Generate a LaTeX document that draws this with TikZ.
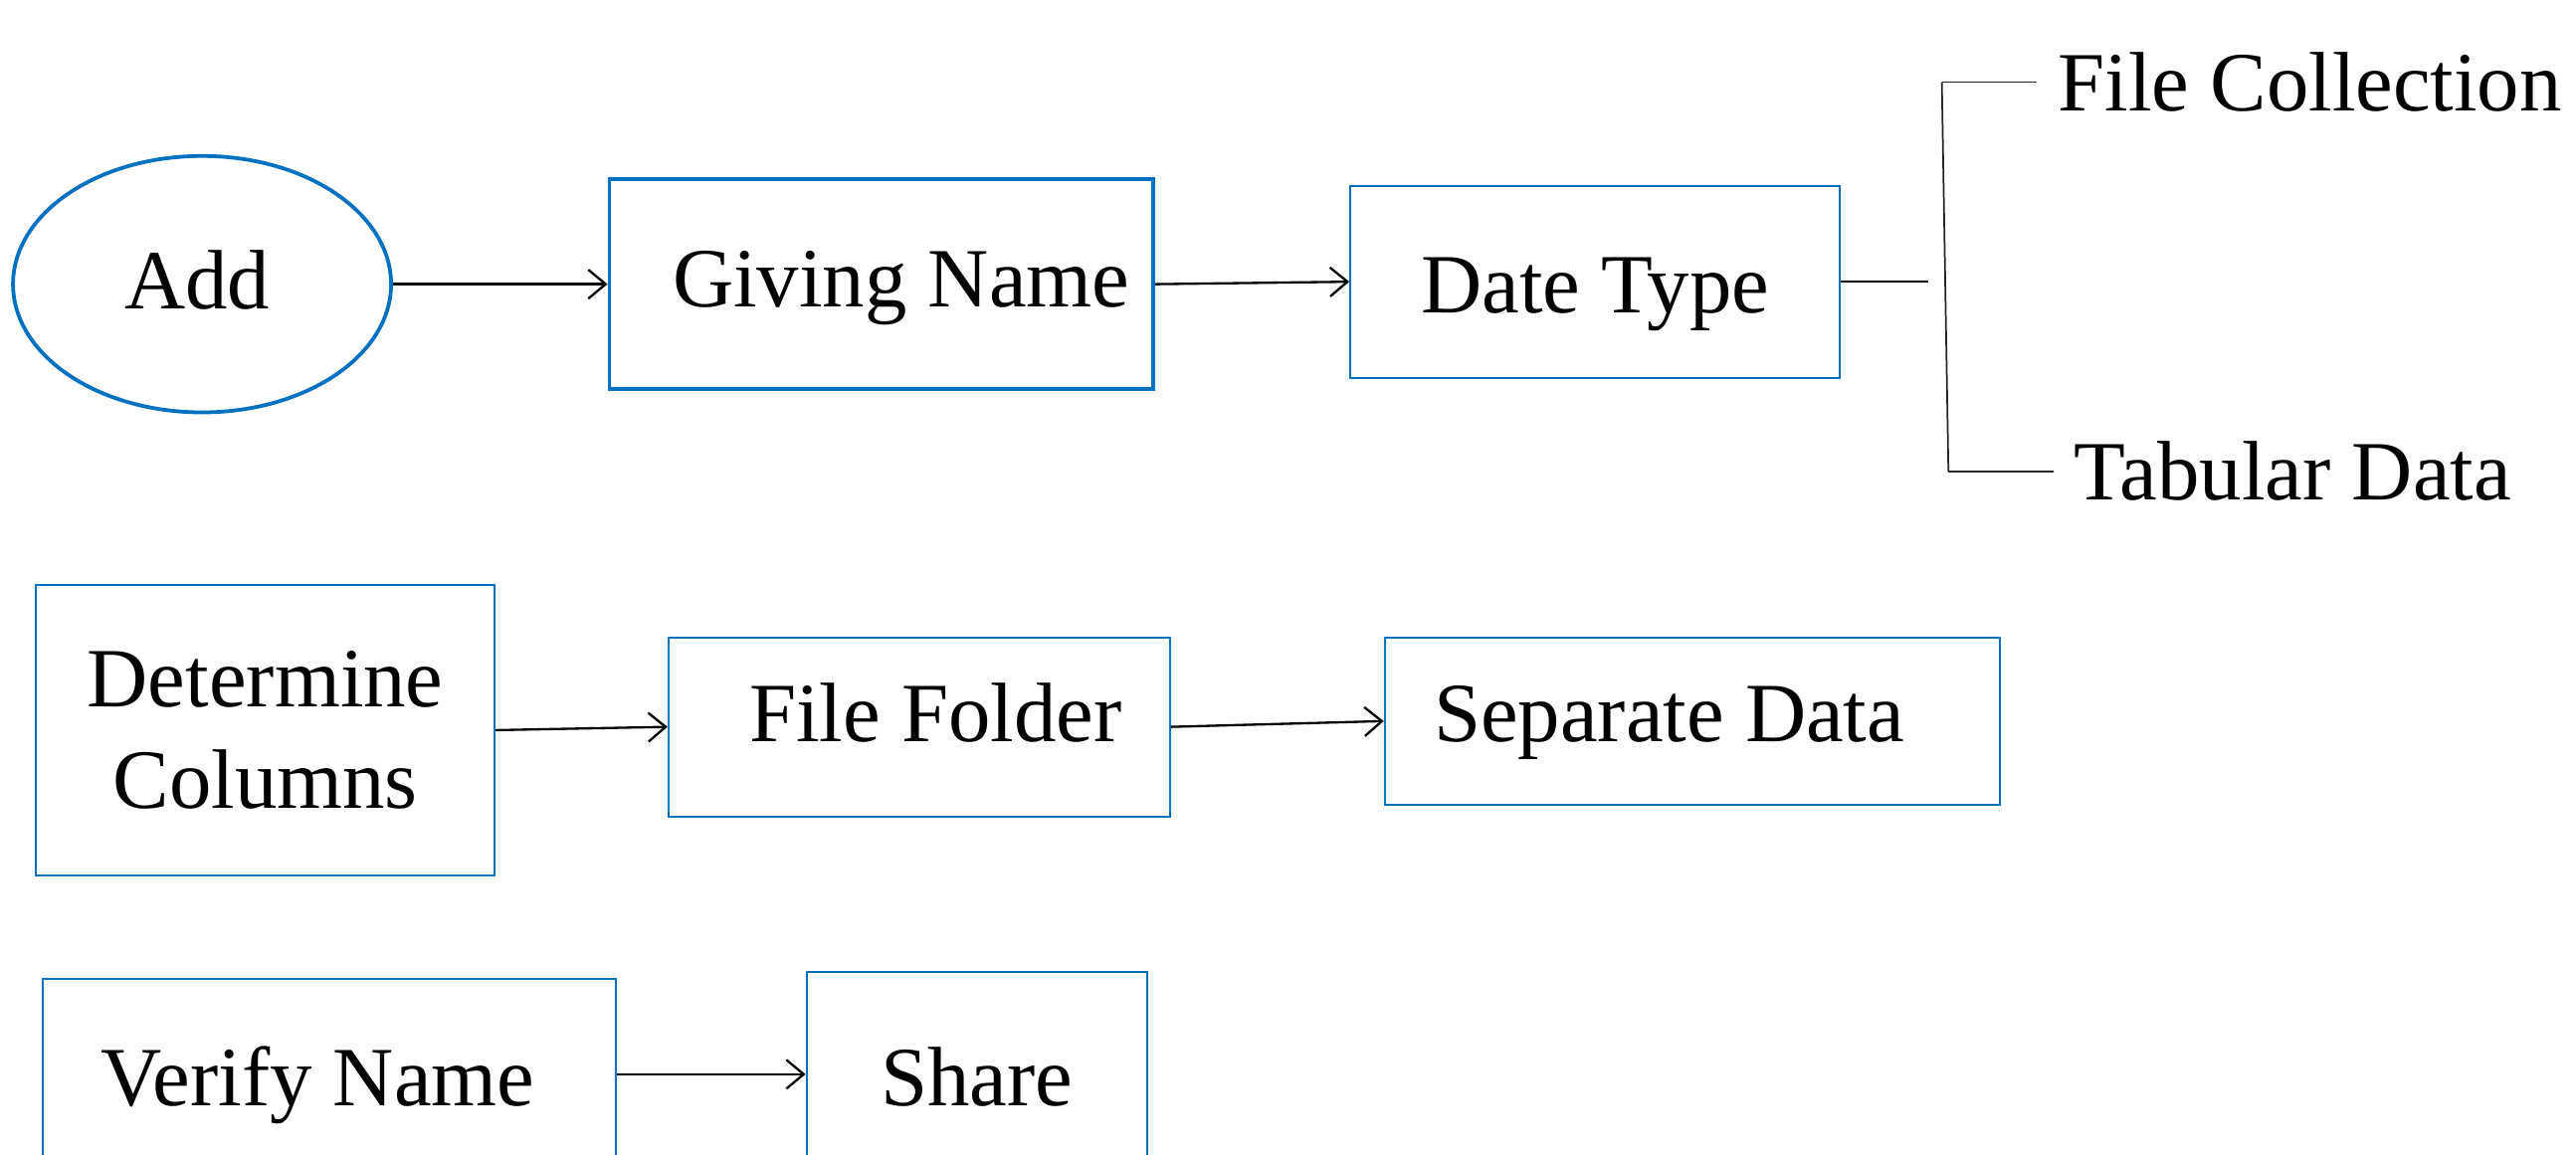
\documentclass[tikz,border=0pt]{standalone}
\usepackage{fontspec}
\setmainfont{Liberation Serif}
\usetikzlibrary{arrows.meta,shapes.geometric}
\definecolor{boxblue}{HTML}{0070C0}
\begin{document}
\begin{tikzpicture}[x=0.01cm,y=-0.01cm,
  every node/.style={font=\fontsize{14.6}{17.6}\selectfont, inner sep=0pt},
  % baseline sits half of #1 below the node centre
  baseat/.style={text height=#1, text depth=0pt},
  stepbox/.style={draw=boxblue, line width=0.35pt, rectangle, align=center},
  boldbox/.style={stepbox, line width=0.65pt},
  link/.style={draw=black, line width=0.4pt},
  flow/.style={link, -{Straight Barb[length=3pt,width=5pt]}},
  bracket/.style={draw=black!85, line width=0.3pt},
  branch/.style={anchor=west, inner xsep=0.12cm}]
\useasboundingbox (0,0) rectangle (1568,703);
\clip (0,0) rectangle (1568,703);

% first row
\node[ellipse, draw=boxblue, line width=0.65pt, minimum width=2.30cm, minimum height=1.56cm, baseat=8.5pt] (add) at (123,173) {Add\hspace*{0.06cm}};
\node[boldbox, minimum width=3.31cm, minimum height=1.28cm, baseat=7.7pt] (giving) at (536.5,173) {\hspace*{0.24cm}Giving Name};
\node[stepbox, minimum width=2.98cm, minimum height=1.17cm, baseat=10.9pt] (datetype) at (971,171.5) {Date Type};

% data type branches
\coordinate (dtend) at (1174,171.5);
\coordinate (brtop) at (1182,50);
\coordinate (brbot) at (1186,287);
\node[branch] (filecoll) at (1240,50) {File Collection};
\node[branch] (tabular) at (1250,287) {Tabular Data};

% second row
\node[stepbox, minimum width=2.79cm, minimum height=1.77cm] (determine) at (161.5,444.5) {Determine\\Columns};
\node[stepbox, minimum width=3.05cm, minimum height=1.09cm, baseat=5pt] (folder) at (559.5,442.5) {\hspace*{0.2cm}File Folder};
\node[stepbox, minimum width=3.74cm, minimum height=1.02cm, baseat=7pt] (separate) at (1030,439) {Separate Data\hspace*{0.28cm}};

% third row (continues below the frame)
\node[stepbox, minimum width=3.49cm, minimum height=1.16cm, baseat=10.9pt] (verify) at (200.5,654) {Verify Name\hspace*{0.14cm}};
\node[stepbox, minimum width=2.07cm, minimum height=1.24cm, baseat=10.8pt] (share) at (594.5,654) {Share};

% connectors
\draw[flow] (add.east) -- (giving.west);
\draw[flow] (giving.east) -- (datetype.west);
\draw[link] (datetype.east) -- (dtend);
\draw[bracket] (brtop) -- (brbot);
\draw[bracket] (brtop) -- (filecoll.west);
\draw[bracket] (brbot) -- (tabular.west);
\draw[flow] (determine.east) -- (folder.west);
\draw[flow] (folder.east) -- (separate.west);
\draw[flow] (verify.east) -- (share.west);
\end{tikzpicture}
\end{document}
